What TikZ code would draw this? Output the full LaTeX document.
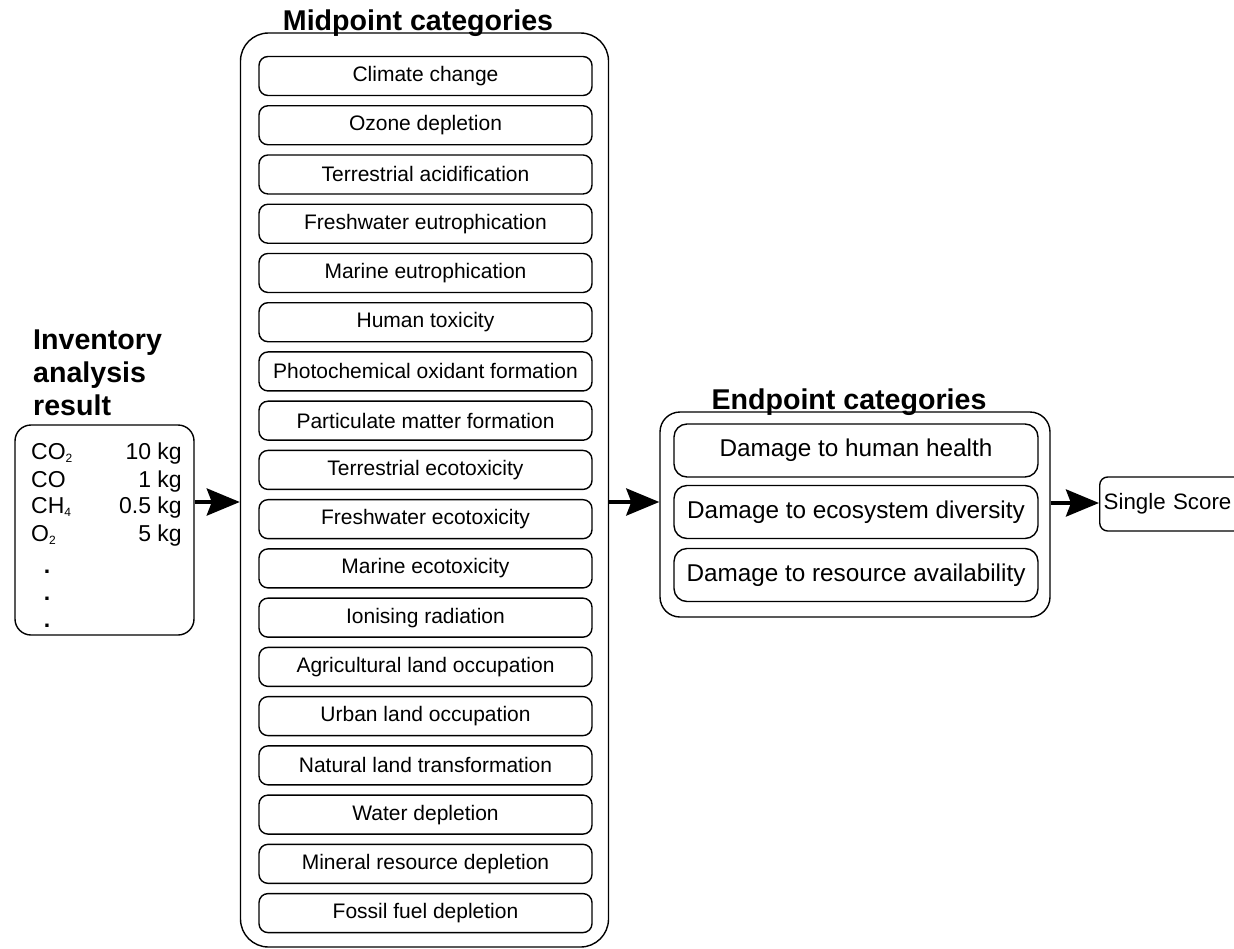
\documentclass[tikz,border=0pt]{standalone}
\usepackage{fontspec}
\setmainfont{Liberation Sans}
\usetikzlibrary{arrows.meta}
\newcommand\subsc[1]{\raisebox{-0.3ex}{\fontsize{12}{12}\selectfont #1}}
\tikzset{
  box/.style={draw, line width=1.4pt, rounded corners=9pt, inner sep=0pt},
  midbox/.style={box, minimum width=333pt, minimum height=39pt, font=\fontsize{21}{24}\selectfont},
  endbox/.style={box, rounded corners=13pt, minimum width=364pt, minimum height=53pt, font=\fontsize{24.3}{28}\selectfont},
  outer/.style={draw, line width=1.4pt, inner sep=0pt},
  ttl/.style={font=\fontsize{28.6}{31}\selectfont\bfseries, inner sep=0pt},
  inv/.style={font=\fontsize{23}{26}\selectfont, inner sep=0pt},
  arr/.style={line width=4pt, -{Stealth[length=33pt,width=27pt,inset=5pt]}},
}
\begin{document}
\begin{tikzpicture}[x=1pt,y=-1pt]
\useasboundingbox (0,0) rectangle (1234,948);
\clip (0,0) rectangle (1234,948);
% Inventory
\node[ttl, anchor=base west] (invtitle) at (33,349) {Inventory};
\node[ttl, anchor=base west] (invtitle2) at (33,382) {analysis};
\node[ttl, anchor=base west] (invtitle3) at (33,415) {result};
\node[outer, rounded corners=16pt, minimum width=179pt, minimum height=210pt] (inv) at (104.5,530) {};
\node[inv, anchor=base west] (c1) at (31,459) {CO\subsc{2}};
\node[inv, anchor=base west] (c2) at (31,487) {CO};
\node[inv, anchor=base west] (c3) at (31,513) {CH\subsc{4}};
\node[inv, anchor=base west] (c4) at (31,541) {O\subsc{2}};
\node[inv, anchor=base east] (v1) at (182,459) {10 kg};
\node[inv, anchor=base east] (v2) at (182,487) {1 kg};
\node[inv, anchor=base east] (v3) at (182,513) {0.5 kg};
\node[inv, anchor=base east] (v4) at (182,541) {5 kg};
\node[inv, anchor=base, font=\fontsize{23}{26}\selectfont\bfseries] (d1) at (47,573) {.};
\node[inv, anchor=base, font=\fontsize{23}{26}\selectfont\bfseries] (d2) at (47,600) {.};
\node[inv, anchor=base, font=\fontsize{23}{26}\selectfont\bfseries] (d3) at (47,627) {.};
% Midpoint
\node[outer, rounded corners=28pt, minimum width=368pt, minimum height=914pt] (mid) at (424.5,490) {};
\node[ttl, anchor=base] (midtitle) at (418,30) {Midpoint categories};
\foreach \t [count=\i from 0] in {Climate change, Ozone depletion, Terrestrial acidification, Freshwater eutrophication, Marine eutrophication, Human toxicity, Photochemical oxidant formation, Particulate matter formation, Terrestrial ecotoxicity, Freshwater ecotoxicity, Marine ecotoxicity, Ionising radiation, Agricultural land occupation, Urban land occupation, Natural land transformation, Water depletion, Mineral resource depletion, Fossil fuel depletion}{
  \node[midbox] (m\i) at (425.5,{76+\i*49.24}) {\t};
}
% Endpoint
\node[outer, rounded corners=20pt, minimum width=390pt, minimum height=205pt] (endp) at (855,514.5) {};
\node[ttl, anchor=base] (endtitle) at (849,409) {Endpoint categories};
\node[endbox] (e1) at (856,450.5) {Damage to human health};
\node[endbox] (e2) at (856,512) {Damage to ecosystem diversity};
\node[endbox] (e3) at (856,575) {Damage to resource availability};
% Single score
\node[box, rounded corners=8pt, anchor=west, minimum height=54pt, minimum width=170pt, text width=162pt, align=left, inner xsep=4pt, font=\fontsize{22.3}{26}\selectfont] (ss) at (1099,504) {Single Score};
% arrows
\coordinate (y1) at (0,502);
\coordinate (y3) at (0,503);
\draw[arr] (inv.east |- y1) -- (mid.west |- y1);
\draw[arr] (mid.east |- y1) -- (endp.west |- y1);
\draw[arr] (endp.east |- y3) -- (ss.west |- y3);
\end{tikzpicture}
\end{document}
